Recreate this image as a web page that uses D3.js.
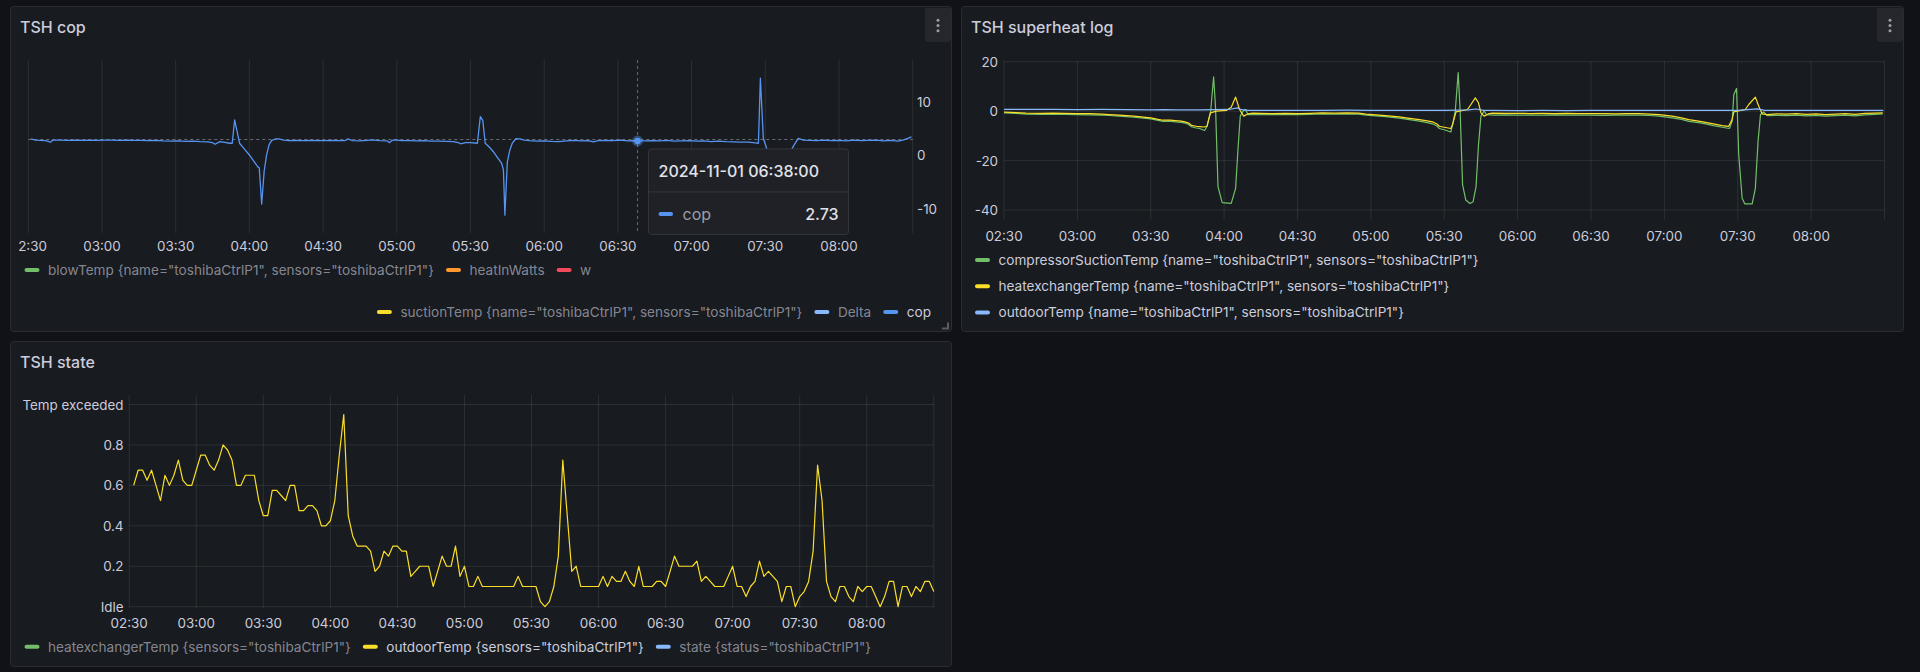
<!DOCTYPE html>
<html><head><meta charset="utf-8">
<script src="https://cdn.jsdelivr.net/npm/d3@7/dist/d3.min.js"></script>
<style>
html,body{margin:0;padding:0;background:#111217;overflow:hidden;}
svg{display:block;font-family:Inter,"Noto Sans",sans-serif;}
</style></head><body>
<svg id="c" width="1920" height="672"></svg>
<script>
// ---------- data ----------
const dayStart = "2024-11-01 02:30";
const dayEnd = "2024-11-01 08:30";
const tickLabels = ["02:30","03:00","03:30","04:00","04:30","05:00","05:30","06:00","06:30","07:00","07:30","08:00"];
const gridLabels = ["02:30","03:00","03:30","04:00","04:30","05:00","05:30","06:00","06:30","07:00","07:30","08:00","08:30"];

// TSH cop (minutes after 02:30, value)
const copMinutes = [1,3,5,7,9,10,13,16,19,22,25,28,31,34,37,40,43,46,49,52,55,58,61,64,67,70,73,75,76,78,80,82,83,84,85,86,88,90,92,93.5,94,95,96,97,98,99,100.5,102,104,106,109,112,115,118,121,124,127,129,130,132,135,138,140,143,146,147,148,149,152,155,158,161,164,167,170,173,175,176,178,180,182.8,184,185,186,188,189.5,191,192.7,193.4,194,195,196,197,198.5,200,202,204,207,210,213,216,219,222,225,228,230,232,235,238,241,244,246,248,251,254,257,260,263,266,269,272,275,278,281,284,287,290,293,296,297.2,298,299.2,300.6,302,304,306,308,310,311.5,313.4,315.5,318,321,324,327,330,333,336,339,342,345,348,351,354,356,358,359.5];
const copValues = [3.1,2.9,2.85,2.8,2.5,2.9,2.9,2.85,2.9,2.85,2.9,2.85,2.9,2.9,2.85,2.9,2.85,2.85,2.8,2.85,2.75,2.7,2.75,2.65,2.7,2.6,2.55,2.4,2.1,2.6,2.45,2.3,2.3,6.7,4.5,2.3,1.2,0.1,-1.2,-2.2,-2.3,-9.1,-3.0,0.1,2.0,2.8,3.1,3.1,2.9,2.8,2.85,2.8,2.85,2.8,2.8,2.85,2.8,2.8,3.1,2.8,2.75,2.85,2.95,2.8,2.75,2.4,2.8,2.95,2.8,2.8,2.75,2.8,2.7,2.7,2.65,2.6,2.4,2.2,2.4,2.4,2.3,7.3,6.6,2.3,1.4,0.6,-0.4,-1.5,-2.7,-11.2,-1.2,1.0,2.3,3.15,3.1,2.9,2.8,2.7,2.75,2.65,2.6,2.75,2.85,2.75,2.8,2.55,2.8,2.85,2.8,2.9,2.75,2.8,2.73,2.75,2.8,2.75,2.85,2.7,2.75,2.8,2.7,2.75,2.6,2.7,2.6,2.55,2.5,2.5,2.35,2.3,14.5,3.2,1.3,-2.0,-4.0,-8.5,-3.0,0.5,1.8,3.2,2.9,2.85,2.8,2.9,2.8,2.85,2.75,2.9,2.8,2.85,2.9,2.75,2.85,2.7,2.9,3.2,3.5];
const copHoverMinute = 248;
const copHoverValue = 2.73;
const copCursorValue = 3.0;
const copTicks = [10, 0, -10];

// TSH superheat log
const suctionMinutes = [0,5,9,15,20,25,30,35,40,43,47,50,53,56,60,63,65,68,70,72.5,74,75.5,76.6,78.6,80,82,83,84.5,85.7,86.5,87.5,89.2,92.9,94.7,95.7,96.6,97.7,98.8,99.7,101.8,105,110,115,120,125,130,135,140,145,148,152,156,161.6,165,169.8,173,175.2,177,178,180,182.7,183.4,184.5,185.7,186.5,187.5,188.8,190.5,191.8,193,194,195,196.3,197.3,200,205,210,215,220,225,230,235,240,245,250,255,259.6,264,267.8,273.2,277,280,284,286.8,290,293.6,296.6,297.7,298.4,299.5,300.4,301.8,302.9,305.9,307.2,308.3,309.3,310.6,312,316,320,324,328,332,336,340,344,348,352,356,359.3];
const suctionValues = [-0.7,-0.9,-1.2,-1.25,-1.2,-1.3,-1.35,-1.45,-1.6,-1.75,-2.0,-2.2,-2.45,-2.7,-3.1,-3.7,-4.1,-4.0,-4.3,-4.5,-4.8,-5.4,-6.3,-6.8,-7.0,-7.8,-6.2,0,13.9,1.35,-30.5,-37,-37.3,-31.2,-14.9,-2.0,0,0.7,-1.35,-1.35,-1.4,-1.35,-1.3,-1.4,-1.3,-1.1,-1.2,-1.1,-1.2,-1.6,-1.9,-2.2,-2.8,-3.3,-4.0,-4.6,-5.1,-6.0,-7.0,-7.5,-8.4,-5.4,0,15.6,0,-29.8,-35.9,-37.3,-36.6,-30.5,-13.6,-2.0,0,-1.35,-1.6,-1.5,-1.6,-1.55,-1.6,-1.5,-1.6,-1.55,-1.6,-1.65,-1.6,-1.55,-1.6,-1.75,-2.0,-2.7,-3.3,-4.1,-4.6,-5.1,-5.8,-6.5,-7.0,-4.1,6.8,9.2,-17.6,-35.2,-37.5,-37.5,-31.2,-12.2,-1.35,-0.3,-1.8,-1.7,-1.8,-1.6,-1.9,-1.7,-2.0,-1.8,-1.6,-1.9,-1.5,-1.3,-1.1];
const hxMinutes = [0,5,9,15,20,25,30,35,40,43,47,50,53,56,60,63,65,68,70,72.5,74,75.5,76.6,78.6,80,82,83,84.4,86.8,90.9,92.9,94.7,96.3,98,99.7,101.8,105,110,115,120,125,130,135,140,145,148,152,156,161.6,165,169.8,173,175.2,177,178,180,182.7,183.4,184.8,189.5,190.9,192.7,194,195,196.3,198,199.7,205,210,215,220,225,230,235,240,245,250,255,259.6,264,267.8,273.2,277,280,284,286.8,290,293.6,296.3,297.7,298.4,303.1,304.5,307.2,308.6,310,312,316,320,324,328,332,336,340,344,348,352,356,359.3];
const hxValues = [-0.4,-0.6,-0.8,-0.85,-0.8,-0.9,-0.95,-1.0,-1.2,-1.35,-1.6,-1.8,-2.0,-2.3,-2.7,-3.3,-3.65,-3.6,-3.8,-4.05,-4.3,-4.8,-5.7,-6.1,-6.2,-6.4,-6.0,-0.7,0,0.3,1.6,5.7,0.7,-2.0,-1.1,-0.8,-0.9,-0.95,-0.9,-1.0,-0.9,-0.7,-0.8,-0.7,-0.75,-1.2,-1.5,-1.8,-2.3,-2.8,-3.4,-3.9,-4.3,-5.2,-6.1,-6.5,-7.0,-5.4,-0.3,0.7,2.7,5.4,3.4,-0.7,-2.0,-1.1,-0.8,-0.9,-0.85,-0.95,-0.9,-0.95,-0.9,-1.0,-0.95,-1.0,-1.05,-1.0,-0.95,-1.2,-1.35,-2.0,-2.7,-3.4,-4.0,-4.5,-5.1,-5.8,-6.1,-3.4,-0.3,0.7,2.7,5.7,2.0,-1.1,-1.35,-1.1,-1.2,-1.0,-1.3,-1.1,-1.4,-1.2,-1.0,-1.3,-0.9,-0.8,-0.7];
const outdoorMinutes = [0,10,20,30,40,50,60,66,70,80,86,92,95.5,97,100,110,120,130,140,150,160,170,180,190,193,196,200,210,220,230,240,250,260,270,280,290,300,308,311,320,330,340,350,359.5];
const outdoorValues = [0.7,0.7,0.75,0.65,0.7,0.6,0.55,0.6,0.5,0.55,0.6,0.7,1.35,0.6,0.3,0.35,0.3,0.3,0.4,0.3,0.3,0.3,0.3,0.5,0.9,0.3,0.3,0.25,0.3,0.25,0.35,0.3,0.3,0.3,0.3,0.35,0.35,0.95,0.3,0.35,0.3,0.35,0.3,0.3];
const superTicks = [20, 0, -20, -40];

// TSH state: outdoorTemp every 2 minutes from 02:32 to 08:30
const stateStartMinute = 2;
const stateStepMinutes = 2;
const stateValues = [0.6,0.675,0.675,0.625,0.675,0.6,0.525,0.65,0.6,0.65,0.725,0.625,0.6,0.6,0.675,0.75,0.75,0.7,0.675,0.725,0.8,0.775,0.725,0.6,0.6,0.65,0.65,0.65,0.525,0.45,0.45,0.575,0.575,0.55,0.525,0.6,0.6,0.475,0.475,0.5,0.5,0.475,0.4,0.4,0.425,0.525,0.75,0.95,0.45,0.35,0.3,0.3,0.3,0.275,0.175,0.2,0.275,0.25,0.3,0.3,0.275,0.275,0.15,0.175,0.2,0.2,0.2,0.1,0.175,0.25,0.2,0.2,0.3,0.15,0.2,0.1,0.1,0.15,0.1,0.1,0.1,0.1,0.1,0.1,0.1,0.1,0.15,0.1,0.1,0.1,0.1,0.025,0,0.025,0.1,0.25,0.725,0.45,0.175,0.2,0.1,0.1,0.1,0.1,0.1,0.15,0.1,0.15,0.125,0.125,0.175,0.125,0.1,0.2,0.1,0.1,0.1,0.125,0.125,0.1,0.175,0.25,0.2,0.2,0.2,0.2,0.225,0.125,0.15,0.125,0.1,0.1,0.1,0.15,0.2,0.1,0.1,0.05,0.1,0.125,0.225,0.15,0.175,0.15,0.125,0.025,0.1,0.1,0,0.05,0.075,0.125,0.275,0.7,0.525,0.125,0.05,0.025,0.1,0.1,0.05,0.025,0.1,0.075,0.1,0.1,0.05,0,0.05,0.125,0.125,0,0.1,0.1,0.05,0.1,0.075,0.125,0.125,0.075];
const stateTicks = [0, 0.2, 0.4, 0.6, 0.8, 1];
const stateTickNames = {0: "Idle", 1: "Temp exceeded"};

// legends
const copLegendRow1 = [
  {name: 'blowTemp {name="toshibaCtrlP1", sensors="toshibaCtrlP1"}', color: "#73BF69", active: false},
  {name: "heatInWatts", color: "#FF9830", active: false},
  {name: "w", color: "#F2495C", active: false}
];
const copLegendRow2 = [
  {name: 'suctionTemp {name="toshibaCtrlP1", sensors="toshibaCtrlP1"}', color: "#FADE2A", active: false},
  {name: "Delta", color: "#8AB8FF", active: false},
  {name: "cop", color: "#5794F2", active: true}
];
const superLegend = [
  {name: 'compressorSuctionTemp {name="toshibaCtrlP1", sensors="toshibaCtrlP1"}', color: "#73BF69", active: true},
  {name: 'heatexchangerTemp {name="toshibaCtrlP1", sensors="toshibaCtrlP1"}', color: "#FADE2A", active: true},
  {name: 'outdoorTemp {name="toshibaCtrlP1", sensors="toshibaCtrlP1"}', color: "#8AB8FF", active: true}
];
const stateLegend = [
  {name: 'heatexchangerTemp {sensors="toshibaCtrlP1"}', color: "#73BF69", active: false},
  {name: 'outdoorTemp {sensors="toshibaCtrlP1"}', color: "#FADE2A", active: true},
  {name: 'state {status="toshibaCtrlP1"}', color: "#8AB8FF", active: false}
];

// ---------- helpers ----------
const parse = d3.timeParse("%Y-%m-%d %H:%M");
const t0 = parse(dayStart), t1 = parse(dayEnd);
const atMin = m => new Date(t0.getTime() + m * 60000);
const atLabel = s => parse("2024-11-01 " + s);
const fmt = d3.timeFormat("%H:%M");
const svg = d3.select("#c");
const TEXT = "#ccccdc", DIM = "rgba(204,204,220,0.62)", GRID = "rgba(240,250,255,0.09)";
const AXF = 13.4, LGF = 13.6;
const defs = svg.append("defs");

function panel(x, y, w, h, title, menu) {
  const g = svg.append("g");
  g.append("rect").attr("x", x).attr("y", y).attr("width", w).attr("height", h).attr("rx", 3)
    .attr("fill", "#181b1f").attr("stroke", "#2a2c31").attr("stroke-width", 1);
  g.append("text").attr("x", x + 9.5).attr("y", y + 20.5).attr("dominant-baseline", "central")
    .attr("fill", TEXT).attr("font-size", 16).attr("font-weight", 500).text(title);
  if (menu) {
    g.append("path").attr("d", `M${x+w-26.5},${y+1.5} h26 v31 q0,3 -3,3 h-20 q-3,0 -3,-3 z`).attr("fill", "#25272d");
    [-5.2, 0, 5.2].forEach(d => g.append("circle").attr("cx", x + w - 13.5).attr("cy", y + 19 + d).attr("r", 1.5).attr("fill", "#9d9ea6"));
  }
  return g;
}

function legendRow(g, items, x, y, alignRight) {
  const row = g.append("g");
  let cx = 0;
  items.forEach((it, i) => {
    row.append("rect").attr("x", cx).attr("y", y - 2).attr("width", 15).attr("height", 4).attr("rx", 2).attr("fill", it.color);
    const t = row.append("text").attr("x", cx + 23.5).attr("y", y).attr("dominant-baseline", "central")
      .attr("font-size", LGF).attr("fill", it.active ? TEXT : DIM).text(it.name);
    cx += 23.5 + t.node().getComputedTextLength() + 12;
  });
  const total = cx - 12;
  row.attr("transform", `translate(${alignRight ? x - total : x},0)`);
}

function timeGrid(g, xs, y0, y1) {
  g.append("g").selectAll("line").data(gridLabels).join("line")
    .attr("x1", d => xs(atLabel(d))).attr("x2", d => xs(atLabel(d)))
    .attr("y1", y0).attr("y2", y1).attr("stroke", GRID).attr("stroke-width", 1);
}
function timeLabels(g, xs, y, clipId) {
  const lg = g.append("g");
  if (clipId) lg.attr("clip-path", `url(#${clipId})`);
  lg.selectAll("text").data(tickLabels).join("text")
    .attr("x", d => xs(atLabel(d))).attr("y", y).attr("text-anchor", "middle").attr("dominant-baseline", "central")
    .attr("font-size", AXF).attr("fill", TEXT).text(d => fmt(atLabel(d)));
}
function series(minutes, values) { return minutes.map((m, i) => [atMin(m), values[i]]); }

// ---------- TSH cop ----------
{
  const g = panel(10.5, 6.5, 941, 325, "TSH cop", true);
  const xs = d3.scaleTime().domain([t0, t1]).range([28.3, 912.7]);
  const ys = d3.scaleLinear().domain([-14.6, 17.9]).range([233.3, 60.1]);
  timeGrid(g, xs, 60, 233);
  defs.append("clipPath").attr("id", "copClip").append("rect").attr("x", 19).attr("y", 0).attr("width", 930).attr("height", 330);
  defs.append("clipPath").attr("id", "copPlot").append("rect").attr("x", 28.3).attr("y", 55).attr("width", 884.4).attr("height", 182);
  timeLabels(g, xs, 246, "copClip");
  g.append("g").selectAll("text").data(copTicks).join("text")
    .attr("x", 917).attr("y", d => ys(d)).attr("dominant-baseline", "central")
    .attr("font-size", AXF).attr("fill", TEXT).text(d => d);
  const hx = xs(atMin(copHoverMinute)), hy = ys(copHoverValue);
  // crosshair
  g.append("line").attr("x1", hx).attr("x2", hx).attr("y1", 60).attr("y2", 233)
    .attr("stroke", "rgba(204,204,220,0.45)").attr("stroke-dasharray", "3,3");
  g.append("line").attr("x1", 28.3).attr("x2", 912.7).attr("y1", ys(copCursorValue)).attr("y2", ys(copCursorValue))
    .attr("stroke", "rgba(204,204,220,0.45)").attr("stroke-dasharray", "3,3");
  const line = d3.line().x(d => xs(d[0])).y(d => ys(d[1]));
  g.append("path").attr("clip-path", "url(#copPlot)").datum(series(copMinutes, copValues)).attr("d", line)
    .attr("fill", "none").attr("stroke", "#5794F2").attr("stroke-width", 1.3).attr("stroke-linejoin", "round");
  g.append("circle").attr("cx", hx).attr("cy", hy).attr("r", 5.5).attr("fill", "rgba(87,148,242,0.4)");
  g.append("circle").attr("cx", hx).attr("cy", hy).attr("r", 3.2).attr("fill", "#5794F2");
  // tooltip
  const tt = g.append("g").attr("transform", `translate(${hx + 11},${hy + 8})`);
  tt.append("rect").attr("x", 0).attr("y", 0).attr("width", 200).attr("height", 85.5).attr("rx", 3)
    .attr("fill", "#1f2126").attr("stroke", "#34363c");
  tt.append("text").attr("x", 10).attr("y", 22).attr("dominant-baseline", "central").attr("font-size", 16)
    .attr("font-weight", 500).attr("fill", "#e2e2ea").text(d3.timeFormat("%Y-%m-%d %H:%M:%S")(atMin(copHoverMinute)));
  tt.append("line").attr("x1", 0).attr("x2", 200).attr("y1", 43).attr("y2", 43).attr("stroke", "#34363c");
  tt.append("rect").attr("x", 10).attr("y", 63).attr("width", 14.5).attr("height", 4).attr("rx", 2).attr("fill", "#5794F2");
  tt.append("text").attr("x", 34).attr("y", 65).attr("dominant-baseline", "central").attr("font-size", 16)
    .attr("fill", "#9d9ea8").text("cop");
  tt.append("text").attr("x", 190).attr("y", 65).attr("text-anchor", "end").attr("dominant-baseline", "central")
    .attr("font-size", 16).attr("font-weight", 500).attr("fill", "#e2e2ea").text(copHoverValue.toFixed(2));
  legendRow(g, copLegendRow1, 24.5, 270, false);
  legendRow(g, copLegendRow2, 931, 312, true);
  g.append("path").attr("d", "M948,322.5 V328.5 H942").attr("fill", "none").attr("stroke", "#5a5c62").attr("stroke-width", 2);
}

// ---------- TSH superheat log ----------
{
  const g = panel(961.5, 6.5, 942, 325, "TSH superheat log", true);
  const xs = d3.scaleTime().domain([t0, t1]).range([1004, 1884.5]);
  const ys = d3.scaleLinear().domain([-44, 20.3]).range([220, 61]);
  timeGrid(g, xs, 61, 220);
  g.append("g").selectAll("line").data(superTicks).join("line")
    .attr("x1", 1004).attr("x2", 1884.5).attr("y1", d => ys(d)).attr("y2", d => ys(d)).attr("stroke", GRID);
  g.append("g").selectAll("text").data(superTicks).join("text")
    .attr("x", 998).attr("y", d => ys(d)).attr("text-anchor", "end").attr("dominant-baseline", "central")
    .attr("font-size", AXF).attr("fill", TEXT).text(d => d);
  timeLabels(g, xs, 235.7);
  const line = d3.line().x(d => xs(d[0])).y(d => ys(d[1]));
  [[suctionMinutes, suctionValues, "#73BF69"], [hxMinutes, hxValues, "#FADE2A"], [outdoorMinutes, outdoorValues, "#8AB8FF"]]
    .forEach(([m, v, c]) => g.append("path").datum(series(m, v)).attr("d", line)
      .attr("fill", "none").attr("stroke", c).attr("stroke-width", 1.2).attr("stroke-linejoin", "round"));
  superLegend.forEach((it, i) => legendRow(g, [it], 975, 260 + i * 26.2, false));
}

// ---------- TSH state ----------
{
  const g = panel(10.5, 341.5, 941, 325, "TSH state", false);
  const xs = d3.scaleTime().domain([t0, t1]).range([129.2, 933.8]);
  const ys = d3.scaleLinear().domain([0, 1]).range([606.7, 404.5]);
  timeGrid(g, xs, 395, 608);
  g.append("g").selectAll("line").data(stateTicks).join("line")
    .attr("x1", 129.2).attr("x2", 933.8).attr("y1", d => ys(d)).attr("y2", d => ys(d)).attr("stroke", GRID);
  g.append("g").selectAll("text").data(stateTicks).join("text")
    .attr("x", 123.5).attr("y", d => ys(d)).attr("text-anchor", "end").attr("dominant-baseline", "central")
    .attr("font-size", AXF).attr("fill", TEXT).text(d => stateTickNames[d] !== undefined ? stateTickNames[d] : d3.format(".1f")(d));
  timeLabels(g, xs, 622.7);
  const pts = stateValues.map((v, i) => [atMin(stateStartMinute + i * stateStepMinutes), v]);
  g.append("path").datum(pts).attr("d", d3.line().x(d => xs(d[0])).y(d => ys(d[1])))
    .attr("fill", "none").attr("stroke", "#FADE2A").attr("stroke-width", 1.2).attr("stroke-linejoin", "round");
  legendRow(g, stateLegend, 24.5, 646.7, false);
}
</script>
</body></html>
